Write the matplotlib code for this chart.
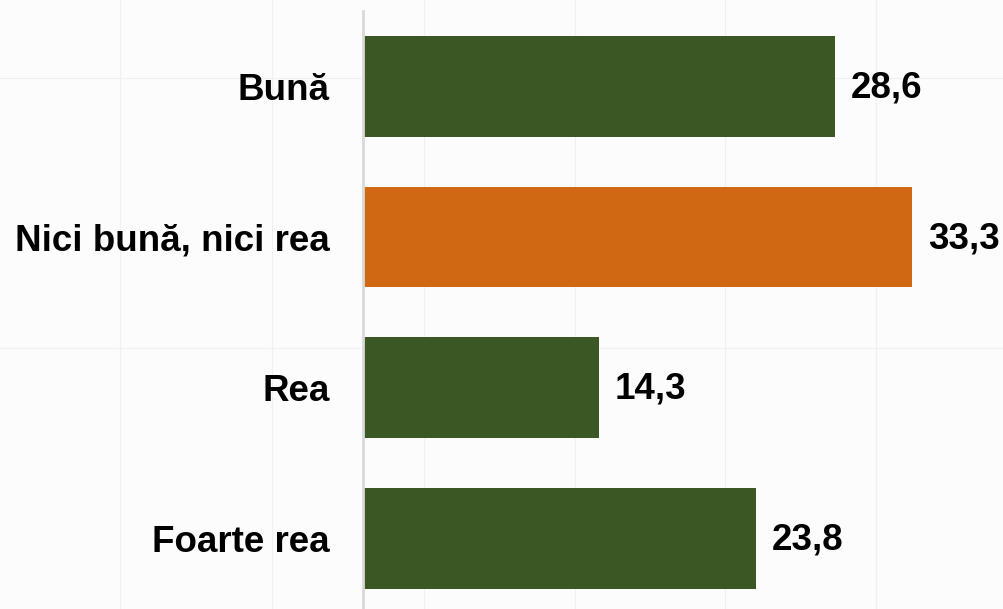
import numpy as np
import matplotlib.pyplot as plt

categories = ['Bună', 'Nici bună, nici rea', 'Rea', 'Foarte rea']
values = [28.6, 33.3, 14.3, 23.8]
bar_colors = ['#3b5724', '#d06713', '#3b5724', '#3b5724']

plt.rcParams['font.family'] = ['Liberation Sans', 'DejaVu Sans']

W, H = 1004, 609
fig = plt.figure(figsize=(W / 100, H / 100), dpi=100)
fig.patch.set_facecolor('#fcfcfc')

# faint background grid of the template
bg = fig.add_axes([0, 0, 1, 1], zorder=0)
bg.set_xlim(0, W)
bg.set_ylim(H, 0)
bg.axis('off')
for x in [120, 272, 424, 575, 725, 876]:
    bg.axvline(x, color='#f0f0f0', lw=0.8)
for y in [78, 348]:
    bg.axhline(y, color='#f0f0f0', lw=0.8)

left, top = 363, 11
pitch = 150.67
ax = fig.add_axes([left / W, 1 - (top + 4 * pitch) / H, (W - left) / W, 4 * pitch / H], zorder=1)
ax.patch.set_alpha(0)

y = np.arange(len(categories))
ax.barh(y, values, height=0.67, color=bar_colors)
ax.set_xlim(0, (W - left) / 16.5)
ax.set_ylim(3.5, -0.5)

for yi, v in zip(y, values):
    ax.text(v + 0.95, yi + 0.01, f'{v:.1f}'.replace('.', ','), va='center', ha='left',
            fontsize=26.5, fontweight='bold', color='black', clip_on=False)

ax.set_yticks(y)
ax.set_yticklabels(categories, fontsize=26.5, fontweight='bold')
ax.tick_params(axis='y', length=0, pad=24)
ax.set_xticks([])
for s in ['top', 'right', 'bottom']:
    ax.spines[s].set_visible(False)
ax.spines['left'].set_color('#d9d9d9')
ax.spines['left'].set_linewidth(2)

fig.savefig('out.png', dpi=100, facecolor=fig.get_facecolor())
